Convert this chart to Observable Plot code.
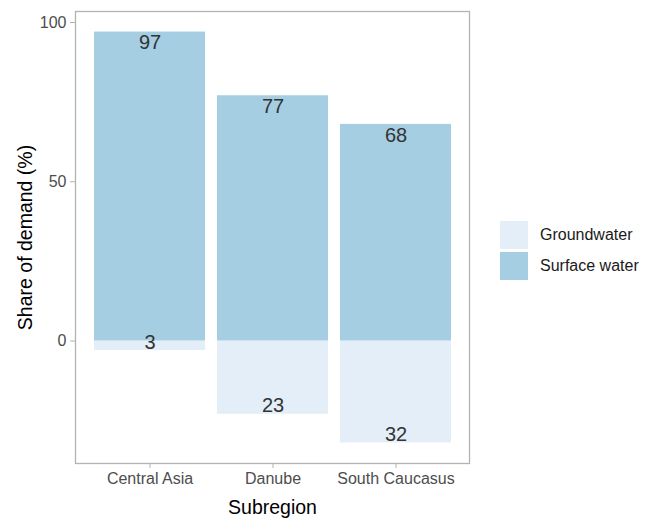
<!DOCTYPE html>
<html>
<head>
<meta charset="utf-8">
<script src="https://cdn.jsdelivr.net/npm/d3@7"></script>
<script src="https://cdn.jsdelivr.net/npm/@observablehq/plot@0.6"></script>
<style>
  html, body { margin: 0; padding: 0; background: #fff; }
  #wrap { position: relative; width: 651px; height: 518px; font-family: "Liberation Sans", Arial, sans-serif; }
  #legend { position: absolute; left: 500px; top: 221px; }
  .item { display: flex; align-items: center; height: 28px; margin-bottom: 3px; }
  .sw { width: 28px; height: 28px; margin-right: 12px; }
  .lab { font-size: 16px; color: #1a1a1a; }
</style>
</head>
<body>
<div id="wrap"></div>
<script>
const regions = ["Central Asia", "Danube", "South Caucasus"];
const types = ["Groundwater", "Surface water"];
const groundwater = [3, 23, 32];
const surface = [97, 77, 68];
const colors = ["#e4eef8", "#a6cee3"];
const yTicks = [0, 50, 100];

const data = [];
regions.forEach((r, i) => {
  data.push({region: r, type: "Groundwater", value: -groundwater[i], label: groundwater[i]});
  data.push({region: r, type: "Surface water", value: surface[i], label: surface[i]});
});

const font = "Liberation Sans, Arial, sans-serif";
const chart = Plot.plot({
  width: 651,
  height: 518,
  marginLeft: 75,
  marginRight: 182,
  marginTop: 11,
  marginBottom: 55,
  style: {fontFamily: font, background: "#fff"},
  x: {domain: regions, paddingInner: 0.1, paddingOuter: 0.15},
  y: {domain: [-38.45, 103.45]},
  color: {domain: types, range: colors},
  marks: [
    Plot.barY(data, {x: "region", y1: 0, y2: "value", fill: "type"}),
    Plot.text(data.filter(d => d.value > 0), {x: "region", y: "value", text: "label", lineAnchor: "top", dy: 3, fontSize: 20, fill: "#333333"}),
    Plot.text(data.filter(d => d.value < 0), {x: "region", y: "value", text: "label", lineAnchor: "bottom", dy: -2, fontSize: 20, fill: "#333333"}),
    Plot.frame({stroke: "#b3b3b3", strokeWidth: 1.3}),
    Plot.axisX({tickSize: 5, tickPadding: 4, stroke: "#b3b3b3", fill: "#4d4d4d", fontSize: 16, label: null}),
    Plot.axisY(yTicks, {tickSize: 5, tickPadding: 4, stroke: "#b3b3b3", fill: "#4d4d4d", fontSize: 16, label: null}),
    Plot.axisX([], {tickSize: 0, label: "Subregion", labelAnchor: "center", labelArrow: "none", labelOffset: 50, fill: "#000", fontSize: 19.5}),
    Plot.axisY([], {tickSize: 0, label: "Share of demand (%)", labelAnchor: "center", labelArrow: "none", labelOffset: 57, fill: "#000", fontSize: 19.5})
  ]
});

const wrap = document.getElementById("wrap");
wrap.appendChild(chart);
const legend = d3.select(wrap).append("div").attr("id", "legend");
types.forEach((t, i) => {
  const it = legend.append("div").attr("class", "item");
  it.append("div").attr("class", "sw").style("background", colors[i]);
  it.append("div").attr("class", "lab").text(t);
});
</script>
</body>
</html>
